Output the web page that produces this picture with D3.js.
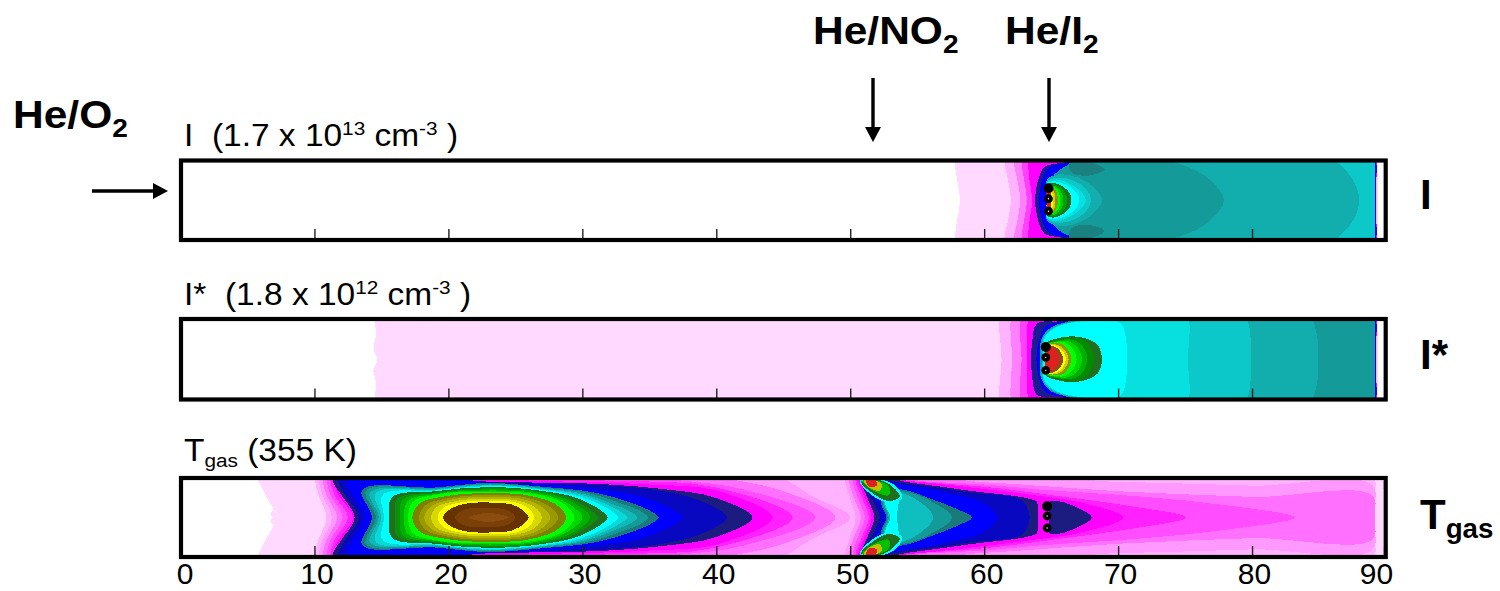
<!DOCTYPE html>
<html>
<head>
<meta charset="utf-8">
<script src="https://cdn.jsdelivr.net/npm/d3@7"></script>
<style>
  html, body { margin: 0; background: #fff; }
  text { font-family: "Liberation Sans", Arial, sans-serif; fill: #000; white-space: pre; }
</style>
</head>
<body>
<script>
// contour bands: x in cm, second value = fraction of half channel (0 centre, 1 wall)
// outlines give the upper half and get mirrored about the centre line
const xTicks = [0, 10, 20, 30, 40, 50, 60, 70, 80, 90];

// injector dots (x cm, fraction from centre, has white centre)
const dotsI = [[64.8, 0.32, 0], [64.8, 0.04, 1], [64.8, -0.29, 1]];
const dotsIs = [[64.6, 0.32, 0], [64.6, 0.05, 1], [64.6, -0.29, 1]];
const dotsT = [[64.7, 0.30, 0], [64.7, 0.04, 1], [64.7, -0.28, 1]];

const colorsI = [
  "#ffd9ff", "#ffb3ff", "#ff80ff", "#ff40ff", "#ff00ff", "#1c1c90", "#0000ff",
  "#0cc8c8", "#12aeae", "#159a9a", "#1a8080",
  "#12aeae", "#0cc8c8", "#08e0e0", "#00ffff",
  "#1f6f1f", "#00a000", "#00d000", "#00ff00",
  "#909000", "#d0d000", "#ffff00", "#8c4c10", "#e02020"
];
const bandsI = [
  [[58.2, 0], [58.0, 0.5], [57.8, 1.05], [89.4, 1.05], [89.4, 0.5], [89.4, 0]],
  [[62.0, 0], [61.8, 0.5], [61.5, 1.05], [89.32, 1.05], [89.32, 0.5], [89.32, 0]],
  [[62.7, 0], [62.5, 0.5], [62.2, 1.05], [89.28, 1.05], [89.28, 0.5], [89.28, 0]],
  [[63.2, 0], [63.0, 0.5], [62.8, 1.05], [89.28, 1.05], [89.28, 0.5], [89.28, 0]],
  [[63.6, 0], [63.4, 0.5], [63.3, 1.05], [89.28, 1.05], [89.28, 0.5], [89.28, 0]],
  [[63.8, 0], [64.0, 0.5], [64.5, 0.88], [65.8, 0.99], [89.27, 0.99], [89.27, 0.5], [89.27, 0]],
  [[64.1, 0], [64.3, 0.5], [64.9, 0.88], [66.2, 0.98], [89.25, 0.98], [89.25, 0.5], [89.25, 0]],
  [[65.0, 0], [65.0, 0.55], [65.6, 0.8], [66.4, 0.95], [89.2, 0.96], [89.15, 0.5], [89.2, 0]],
  [[65.0, 0], [65.0, 0.55], [65.6, 0.8], [66.4, 0.95], [86.5, 0.96], [87.6, 0.5], [88.0, 0]],
  [[65.0, 0], [65.0, 0.55], [65.6, 0.8], [66.4, 0.95], [74.6, 0.96], [77.0, 0.5], [77.9, 0]],
  [[66.3, 0.96], [66.5, 0.75], [67.3, 0.65], [68.4, 0.7], [69.0, 0.81], [68.3, 0.96]],
  [[64.7, 0], [64.7, 0.55], [65.5, 0.68], [67.0, 0.6], [68.3, 0.3], [68.8, 0]],
  [[64.7, 0], [64.7, 0.5], [65.5, 0.6], [66.8, 0.5], [67.7, 0.25], [68.0, 0]],
  [[64.7, 0], [64.7, 0.48], [65.4, 0.55], [66.5, 0.42], [67.3, 0.2], [67.6, 0]],
  [[64.7, 0], [64.7, 0.46], [65.3, 0.5], [66.2, 0.4], [66.9, 0.2], [67.1, 0]],
  [[64.7, 0], [64.7, 0.42], [65.2, 0.46], [65.9, 0.36], [66.4, 0.18], [66.5, 0]],
  [[64.7, 0], [64.7, 0.4], [65.2, 0.42], [65.8, 0.32], [66.1, 0.16], [66.2, 0]],
  [[64.7, 0], [64.7, 0.38], [65.1, 0.4], [65.6, 0.3], [65.85, 0.14], [65.9, 0]],
  [[64.7, 0], [64.7, 0.36], [65.1, 0.37], [65.5, 0.26], [65.65, 0.12], [65.7, 0]],
  [[64.7, 0], [64.7, 0.34], [65.1, 0.35], [65.4, 0.22], [65.5, 0]],
  [[64.7, 0], [64.7, 0.32], [65.0, 0.33], [65.25, 0.2], [65.3, 0]],
  [[64.7, 0], [64.7, 0.3], [65.0, 0.3], [65.1, 0.18], [65.15, 0]],
  [[64.7, 0], [64.7, 0.28], [64.9, 0.27], [65.0, 0.14], [65.0, 0]],
  [[64.7, 0], [64.7, 0.25], [64.85, 0.22], [64.9, 0]]
];

const colorsIs = [
  "#ffd9ff", "#ffb3ff", "#ff80ff", "#ff40ff", "#ff00ff", "#1c1c90", "#0000ff",
  "#159a9a", "#12aeae", "#0cc8c8", "#08e0e0", "#00ffff",
  "#1f6f1f", "#008c00", "#00b000", "#00d800", "#00ff00",
  "#909000", "#d0d000", "#ffff00", "#8c4c10", "#e02020"
];
const bandsIs = [
  [[14.7, 0], [14.4, 0.3], [14.6, 0.6], [14.5, 1.05], [89.4, 1.05], [89.4, 0.5], [89.4, 0]],
  [[61.3, 0], [61.2, 0.5], [61.1, 1.05], [89.32, 1.05], [89.32, 0.5], [89.32, 0]],
  [[62.1, 0], [62.0, 0.5], [62.0, 1.05], [89.28, 1.05], [89.28, 0.5], [89.28, 0]],
  [[62.8, 0], [62.7, 0.5], [62.7, 1.05], [89.28, 1.05], [89.28, 0.5], [89.28, 0]],
  [[63.2, 0], [63.2, 0.5], [63.3, 1.05], [89.28, 1.05], [89.28, 0.5], [89.28, 0]],
  [[63.5, 0], [63.6, 0.5], [63.9, 0.92], [65.6, 0.99], [89.27, 0.99], [89.27, 0.5], [89.27, 0]],
  [[63.9, 0], [64.1, 0.5], [64.6, 0.86], [65.8, 0.98], [89.25, 0.98], [89.25, 0.5], [89.25, 0]],
  [[64.2, 0], [64.3, 0.55], [65.0, 0.84], [66.0, 0.96], [89.2, 0.96], [89.15, 0.5], [89.2, 0]],
  [[64.3, 0], [64.4, 0.6], [65.2, 0.85], [66.2, 0.96], [84.6, 0.96], [84.9, 0.5], [84.9, 0]],
  [[64.3, 0], [64.5, 0.6], [65.3, 0.85], [66.4, 0.96], [79.7, 0.96], [79.9, 0.5], [79.9, 0]],
  [[64.4, 0], [64.5, 0.6], [65.4, 0.85], [66.5, 0.96], [75.3, 0.96], [75.3, 0.5], [75.2, 0]],
  [[64.4, 0], [64.6, 0.6], [65.5, 0.85], [66.7, 0.96], [70.3, 0.9], [70.6, 0.5], [70.7, 0]],
  [[64.6, 0], [64.6, 0.42], [65.5, 0.55], [66.6, 0.6], [67.8, 0.52], [68.45, 0.38], [68.8, 0]],
  [[64.6, 0], [64.6, 0.4], [65.5, 0.5], [66.6, 0.56], [67.6, 0.46], [68.2, 0]],
  [[64.6, 0], [64.6, 0.4], [65.4, 0.48], [66.4, 0.52], [67.2, 0.4], [67.7, 0]],
  [[64.6, 0], [64.6, 0.38], [65.4, 0.46], [66.2, 0.48], [66.9, 0.34], [67.3, 0]],
  [[64.6, 0], [64.6, 0.38], [65.3, 0.44], [66.0, 0.44], [66.6, 0.28], [66.9, 0]],
  [[64.6, 0], [64.6, 0.36], [65.2, 0.42], [65.9, 0.38], [66.5, 0]],
  [[64.6, 0], [64.6, 0.36], [65.1, 0.4], [65.8, 0.32], [66.3, 0]],
  [[64.6, 0], [64.6, 0.34], [65.1, 0.38], [65.7, 0.28], [66.1, 0]],
  [[64.6, 0], [64.6, 0.32], [65.0, 0.36], [65.6, 0.24], [65.9, 0]],
  [[64.6, 0], [64.6, 0.3], [64.9, 0.33], [65.4, 0.2], [65.6, 0]]
];

const colorsT = [
  "#ffd9ff", "#ffb3ff", "#ff99ff", "#ff70ff", "#ff4dff", "#ff22ff", "#ff00ff", "#1c1c80", "#0808c0", "#0000ff",
  "#1a7a7a", "#159a9a", "#10b8b8", "#08d8d8", "#00ffff",
  "#1f6f1f", "#0c900c", "#00b000", "#00d800", "#00ff00",
  "#808000", "#9a9a00", "#b4b400", "#d8d800", "#ffff00",
  "#663300", "#7a4008", "#8c4c10",
  "#ff99ff", "#ff70ff", "#ff4dff", "#ff22ff", "#ff00ff", "#1c1c80", "#0808c0", "#0000ff",
  "#1a7a7a", "#159a9a", "#0fbfbf", "#00ffff",
  "#00ffff", "#1f6f1f", "#00c000", "#c0c000", "#e02020",
  "#1c1c80"
];
const bandsT = [
  [[6.9, 0], [6.7, 0.1], [6.9, 0.2], [6.5, 0.5], [5.7, 1.05], [89.8, 1.05], [89.8, 0.5], [89.8, 0]],
  [[10.9, 0], [10.3, 0.6], [10.0, 1.05], [89.2, 1.05], [89.2, 0.5], [89.2, 0]],
  [[11.3, 0], [10.6, 0.6], [10.3, 1.05], [45, 1.05], [47, 0.6], [50, 0]],
  [[11.7, 0], [10.9, 0.6], [10.6, 1.02], [41, 1.02], [45, 0.7], [48.9, 0]],
  [[12.1, 0], [11.2, 0.6], [10.9, 1.0], [37, 1.0], [42, 0.75], [47.4, 0]],
  [[12.5, 0], [11.5, 0.6], [11.2, 0.98], [32, 0.98], [40, 0.8], [45.7, 0]],
  [[12.9, 0], [11.8, 0.6], [11.4, 0.97], [27, 0.97], [35, 0.88], [40, 0.72], [44.2, 0]],
  [[13.0, 0], [12.0, 0.6], [11.4, 0.93], [24, 0.94], [32, 0.88], [36, 0.76], [40, 0.52], [42.7, 0]],
  [[13.3, 0], [12.3, 0.6], [11.8, 0.91], [24, 0.93], [32, 0.85], [36, 0.7], [39, 0.42], [40.8, 0]],
  [[13.7, 0], [12.8, 0.6], [12.4, 0.88], [24, 0.92], [31, 0.76], [34.5, 0.55], [36.5, 0.26], [37.5, 0]],
  [[14.3, 0], [13.5, 0.68], [19, 0.8], [23, 0.92], [27, 0.82], [31, 0.66], [33.8, 0.37], [35.2, 0.15], [35.7, 0]],
  [[14.6, 0], [13.8, 0.66], [19, 0.78], [23, 0.9], [27, 0.8], [30.6, 0.64], [33, 0.36], [34.5, 0.14], [34.9, 0]],
  [[14.8, 0], [14.1, 0.62], [19, 0.76], [23, 0.88], [27, 0.78], [30.2, 0.62], [32.4, 0.34], [33.7, 0.13], [34.1, 0]],
  [[15.0, 0], [14.5, 0.6], [19, 0.74], [23, 0.86], [27, 0.76], [30, 0.6], [32, 0.32], [33.0, 0.12], [33.4, 0]],
  [[15.2, 0], [15.0, 0.55], [19, 0.72], [23, 0.84], [27, 0.74], [29.8, 0.56], [31.6, 0.3], [32.4, 0.11], [32.7, 0]],
  [[15.6, 0], [15.7, 0.5], [19, 0.7], [23, 0.81], [27, 0.71], [29.6, 0.52], [31, 0.28], [31.7, 0.1], [31.9, 0]],
  [[16.0, 0], [16.1, 0.46], [19, 0.67], [23, 0.78], [27, 0.69], [29.4, 0.46], [30.6, 0.2], [31.2, 0]],
  [[16.4, 0], [16.5, 0.44], [19, 0.65], [23, 0.75], [27, 0.66], [29.2, 0.42], [30.6, 0]],
  [[16.7, 0], [16.9, 0.42], [19, 0.62], [23, 0.72], [27, 0.62], [29, 0.36], [30, 0]],
  [[17.0, 0], [17.3, 0.4], [19, 0.6], [23, 0.69], [27, 0.58], [28.8, 0.32], [29.4, 0]],
  [[17.3, 0], [17.8, 0.36], [19.5, 0.55], [23, 0.65], [26.5, 0.55], [28.3, 0.28], [28.8, 0]],
  [[17.8, 0], [18.3, 0.33], [19.8, 0.5], [23, 0.6], [26.2, 0.5], [27.7, 0.25], [28.2, 0]],
  [[18.2, 0], [18.7, 0.3], [20, 0.46], [23, 0.55], [26, 0.45], [27.2, 0.22], [27.6, 0]],
  [[18.7, 0], [19.1, 0.27], [20.3, 0.42], [23, 0.5], [25.7, 0.4], [26.7, 0.2], [27.0, 0]],
  [[19.2, 0], [19.6, 0.25], [20.6, 0.38], [23, 0.45], [25.4, 0.36], [26.2, 0.18], [26.4, 0]],
  [[19.6, 0], [20.2, 0.24], [21.3, 0.37], [23, 0.4], [24.8, 0.34], [25.7, 0.15], [26.0, 0]],
  [[20.5, 0], [21, 0.18], [23, 0.25], [24.5, 0.18], [25.0, 0]],
  [[21.5, 0], [23, 0.12], [24.5, 0]],
  [[50.4, 0], [50.0, 0.5], [49.6, 1.05], [70, 0.95], [80, 0.85], [89.2, 0.73], [89.2, 0.4], [89.2, 0]],
  [[50.8, 0], [50.3, 0.5], [49.9, 1.05], [60, 0.94], [70, 0.7], [80, 0.55], [89.2, 0.45], [89.2, 0.2], [89.2, 0]],
  [[51.1, 0], [50.6, 0.5], [50.2, 1.05], [56, 0.95], [60, 0.88], [64, 0.75], [72, 0.55], [78, 0.33], [83.2, 0]],
  [[51.4, 0], [50.9, 0.5], [50.4, 1.05], [55, 0.95], [60, 0.82], [66, 0.55], [71, 0.3], [75.1, 0]],
  [[51.6, 0], [51.1, 0.5], [50.6, 1.05], [54.5, 0.97], [60, 0.76], [64, 0.58], [67, 0.42], [70.4, 0]],
  [[51.8, 0], [51.3, 0.5], [50.8, 1.05], [54.7, 0.92], [59, 0.71], [63.6, 0.48], [63.9, 0.44], [64.0, 0.2], [64.0, 0]],
  [[52.2, 0], [51.6, 0.5], [51.0, 0.95], [54.6, 0.88], [59, 0.66], [63.0, 0.4], [63.3, 0.18], [63.4, 0]],
  [[52.5, 0], [52.0, 0.5], [51.3, 0.9], [54.5, 0.84], [58, 0.6], [60, 0.38], [61, 0]],
  [[52.7, 0], [52.3, 0.4], [52.6, 0.74], [54, 0.74], [56, 0.5], [58, 0.22], [59.1, 0]],
  [[52.8, 0], [52.4, 0.4], [52.7, 0.7], [54, 0.7], [56, 0.44], [57.6, 0]],
  [[52.9, 0], [52.5, 0.4], [52.8, 0.66], [54, 0.64], [55.2, 0.42], [56.2, 0]],
  [[53.0, 0], [52.6, 0.4], [52.9, 0.62], [53.7, 0.62], [53.6, 0.35], [53.5, 0]],
  [[50.7, 0.98], [51.9, 1.04], [53.4, 0.84], [53.9, 0.53], [52.9, 0.4], [51.6, 0.6]],
  [[50.8, 0.95], [51.9, 1.02], [53.2, 0.81], [53.7, 0.55], [52.9, 0.44], [51.7, 0.64]],
  [[50.9, 0.97], [51.9, 0.99], [52.9, 0.82], [52.9, 0.6], [51.9, 0.68]],
  [[51.0, 0.98], [51.8, 1.0], [52.4, 0.85], [52.2, 0.72], [51.6, 0.76]],
  [[51.2, 1.0], [51.9, 1.0], [52.0, 0.86], [51.4, 0.82]],
  [[64.9, 0], [64.9, 0.42], [66, 0.4], [67, 0.25], [68.06, 0]]
];

const panels = [
  { top: 160.5, bottom: 240, colors: colorsI, bands: bandsI, dots: dotsI },
  { top: 319, bottom: 399.5, colors: colorsIs, bands: bandsIs, dots: dotsIs },
  { top: 478, bottom: 557, colors: colorsT, bands: bandsT, dots: dotsT }
];

// text runs: [string, baseline shift name]
const titleI = [["I  (1.7 x 10"], ["13", "sup"], [" cm"], ["-3", "sup"], [" )"]];
const titleIs = [["I*  (1.8 x 10"], ["12", "sup"], [" cm"], ["-3", "sup"], [" )"]];
const titleT = [["T"], ["gas", "subSmall"], [" (355 K)"]];

const width = 1500, height = 591;

const svg = d3.select("body").append("svg")
  .attr("width", width).attr("height", height)
  .style("display", "block");

const x = d3.scaleLinear().domain([0, 90]).range([180.5, 1386]);

const outline = d3.line().curve(d3.curveCatmullRomClosed.alpha(0.8));

// closes an upper half outline with its mirror image
function bandPaths(pts, y) {
  const toPx = d => [x(d[0]), y(d[1])];
  if (pts[0][1] === 0 && pts[pts.length - 1][1] === 0) {
    const lower = pts.slice(1, -1).reverse().map(d => [d[0], -d[1]]);
    return [outline(pts.concat(lower).map(toPx))];
  }
  return [outline(pts.map(toPx)), outline(pts.map(d => [d[0], -d[1]]).map(toPx))];
}

panels.forEach((p, i) => {
  const y = d3.scaleLinear().domain([-1, 1]).range([p.bottom - 2, p.top + 2]);
  const g = svg.append("g").attr("class", "panel");

  g.append("clipPath").attr("id", "clip" + i)
    .append("rect")
    .attr("x", x(0)).attr("y", p.top)
    .attr("width", x(90) - x(0)).attr("height", p.bottom - p.top);

  const bands = g.append("g").attr("clip-path", "url(#clip" + i + ")");
  p.bands.forEach((pts, k) => {
    bands.selectAll(null)
      .data(bandPaths(pts, y))
      .enter().append("path")
      .attr("d", d => d)
      .attr("fill", p.colors[k])
      .attr("shape-rendering", "crispEdges");
  });

  g.selectAll("circle.dot").data(p.dots).enter().append("circle")
    .attr("class", "dot")
    .attr("cx", d => x(d[0])).attr("cy", d => y(d[1]))
    .attr("r", d => d[2] ? 4.4 : 5)
    .attr("fill", "#000");
  g.selectAll("circle.hole").data(p.dots.filter(d => d[2])).enter().append("circle")
    .attr("class", "hole")
    .attr("cx", d => x(d[0])).attr("cy", d => y(d[1]))
    .attr("r", 0.7)
    .attr("fill", "#fff");

  // ticks point inward, only the last panel has numbers
  const axis = d3.axisBottom(x).tickValues(xTicks).tickSize(-11);
  if (i < 2) axis.tickFormat("");
  const ax = g.append("g").attr("transform", "translate(0," + p.bottom + ")").call(axis);
  ax.select(".domain").remove();
  ax.selectAll("line").attr("stroke", "#222").attr("stroke-width", 1.4);
  ax.selectAll("text")
    .style("font-family", '"Liberation Sans", Arial, sans-serif')
    .style("font-size", "30px")
    .attr("fill", "#000")
    .attr("y", 6)
    .attr("dy", "0.71em")
    .attr("x", d => d === 0 ? 4 : d === 90 ? -10 : 2);

  g.append("rect")
    .attr("x", 181).attr("y", p.top)
    .attr("width", 1385.7 - 181).attr("height", p.bottom - p.top)
    .attr("fill", "none").attr("stroke", "#000").attr("stroke-width", 4.2);
});

const shifts = {
  sup: { dy: -11, size: 0.62 },
  sub: { dy: 9, size: 0.66 },
  subSmall: { dy: 6, size: 0.62 }
};

// the source figure is stretched sideways, so text gets its own horizontal scale
function addText(px, py, size, stretch, weight, runs) {
  const t = svg.append("text")
    .attr("transform", "translate(" + px + "," + py + ") scale(" + stretch + ",1)")
    .style("font-size", size + "px")
    .style("font-weight", weight);
  let back = 0;
  runs.forEach(r => {
    const s = shifts[r[1]];
    t.append("tspan")
      .attr("dy", (s ? s.dy : 0) - back)
      .style("font-size", (s ? size * s.size : size) + "px")
      .text(r[0]);
    back = s ? s.dy : 0;
  });
}

addText(813, 44, 39, 1.09, "bold", [["He/NO"], ["2", "sub"]]);
addText(1005, 44, 39, 1.09, "bold", [["He/I"], ["2", "sub"]]);
addText(13, 128, 39, 1.09, "bold", [["He/O"], ["2", "sub"]]);

addText(184, 146, 31, 1.08, "normal", titleI);
addText(184, 305, 31, 1.08, "normal", titleIs);
addText(184, 461, 31, 1.08, "normal", titleT);

addText(1420, 209, 42, 1, "bold", [["I"]]);
addText(1420, 369, 42, 1, "bold", [["I*"]]);
addText(1420, 529, 42, 1, "bold", [["T"], ["gas", "sub"]]);

// flow arrows
const arrows = [[873, 78, 873, 142], [1049, 78, 1049, 142], [92, 191, 168, 191]];
arrows.forEach(a => {
  const angle = Math.atan2(a[3] - a[1], a[2] - a[0]) * 180 / Math.PI;
  const len = Math.hypot(a[2] - a[0], a[3] - a[1]);
  const g = svg.append("g")
    .attr("transform", "translate(" + a[0] + "," + a[1] + ") rotate(" + angle + ")");
  g.append("line").attr("x1", 0).attr("y1", 0).attr("x2", len - 14).attr("y2", 0)
    .attr("stroke", "#000").attr("stroke-width", 3.4);
  g.append("path")
    .attr("d", "M" + (len - 15) + ",-8L" + len + ",0L" + (len - 15) + ",8Z")
    .attr("fill", "#000");
});
</script>
</body>
</html>
